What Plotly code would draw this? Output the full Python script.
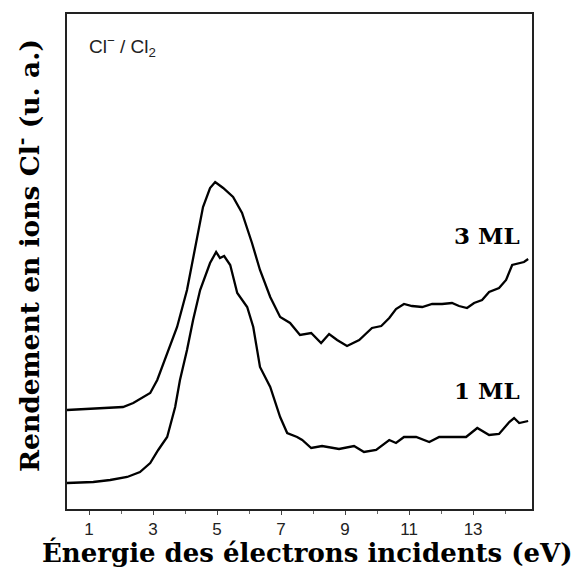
import plotly.graph_objects as go

# Energy (eV) and yield (arbitrary units)
e_3ml = [0.31, 1.03, 2.06, 2.38, 2.91, 3.13, 3.44, 3.75, 4.06, 4.38, 4.56, 4.78, 4.94,
         5.19, 5.50, 5.78, 6.09, 6.34, 6.66, 6.97, 7.28, 7.59, 7.94, 8.25, 8.50, 8.75,
         9.06, 9.44, 9.84, 10.13, 10.38, 10.59, 10.84, 11.09, 11.41, 11.72, 12.03, 12.34,
         12.56, 12.81, 13.03, 13.28, 13.50, 13.81, 14.03, 14.22, 14.44, 14.59, 14.72]
y_3ml = [99, 100, 102, 106, 116, 129, 156, 182, 219, 272, 302, 321, 327,
         321, 312, 296, 266, 239, 212, 192, 186, 174, 176, 166, 175, 169,
         163, 169, 181, 183, 191, 200, 205, 203, 202, 205, 205, 206,
         203, 201, 206, 209, 217, 221, 229, 244, 246, 247, 250]

e_1ml = [0.31, 1.13, 1.66, 2.19, 2.59, 2.91, 3.16, 3.44, 3.69, 3.84, 4.06, 4.25, 4.47,
         4.63, 4.78, 4.97, 5.09, 5.22, 5.31, 5.41, 5.63, 5.94, 6.13, 6.34, 6.66, 6.97,
         7.19, 7.50, 7.66, 7.94, 8.28, 8.81, 9.28, 9.59, 9.97, 10.38, 10.59, 10.84,
         11.22, 11.63, 11.94, 12.47, 12.78, 13.13, 13.50, 13.81, 14.13, 14.28, 14.44, 14.72]
y_1ml = [26, 27, 29, 32, 37, 46, 59, 72, 102, 129, 159, 189, 219,
         232, 246, 257, 251, 253, 249, 244, 216, 202, 182, 142, 122, 92,
         76, 72, 69, 61, 63, 60, 63, 57, 59, 69, 66, 72,
         72, 67, 72, 72, 72, 81, 74, 75, 87, 91, 86, 88]

tick_vals = [1, 3, 5, 7, 9, 11, 13]
tick_text = ["1", "3", "5", "7", "9", "11", "13"]

fig = go.Figure()
for e, y, name in [(e_3ml, y_3ml, "3 ML"), (e_1ml, y_1ml, "1 ML")]:
    fig.add_trace(go.Scatter(x=e, y=y, mode="lines", name=name,
                             line=dict(color="black", width=2.3), showlegend=False))

serif = "DejaVu Serif"
fig.update_layout(
    width=578, height=568,
    margin=dict(l=67, r=46, t=14, b=59),
    paper_bgcolor="white", plot_bgcolor="white",
    xaxis=dict(range=[0.31, 14.84], tickvals=tick_vals, ticktext=tick_text,
               ticks="outside", ticklen=4, tickcolor="#444",
               minor=dict(dtick=1, ticks="outside", ticklen=3, tickcolor="#666"),
               showgrid=False, zeroline=False, showline=True, linecolor="#222",
               linewidth=1.5, mirror=True,
               tickfont=dict(family="Liberation Sans", size=17, color="#222")),
    yaxis=dict(range=[0, 495], showticklabels=False, ticks="",
               showgrid=False, zeroline=False, showline=True, linecolor="#222",
               linewidth=1.5, mirror=True),
    annotations=[
        dict(text="<b>Rendement en ions Cl<sup>-</sup> (u. a.)</b>", textangle=-90,
             x=-0.084, y=0.513, xref="paper", yref="paper",
             xanchor="center", yanchor="middle", showarrow=False,
             font=dict(family=serif, size=26.5, color="black")),
        dict(text="<b>Énergie des électrons incidents (eV)</b>", x=0.518, y=-0.087,
             xref="paper", yref="paper", xanchor="center", yanchor="middle",
             showarrow=False, font=dict(family=serif, size=26, color="black")),
        dict(text="Cl<sup>−</sup> / Cl<sub>2</sub>", x=0.043, y=0.965, xref="paper", yref="paper",
             xanchor="left", yanchor="top", showarrow=False,
             font=dict(family="Liberation Sans", size=19, color="#222")),
        dict(text="<b>3 ML</b>", x=14.53, y=258, xanchor="right", yanchor="bottom",
             showarrow=False, font=dict(family=serif, size=23, color="black")),
        dict(text="<b>1 ML</b>", x=14.53, y=103, xanchor="right", yanchor="bottom",
             showarrow=False, font=dict(family=serif, size=23, color="black")),
    ],
)

fig.write_html("out.html", config={"displayModeBar": False},
               post_script="document.body.style.margin='0';")
